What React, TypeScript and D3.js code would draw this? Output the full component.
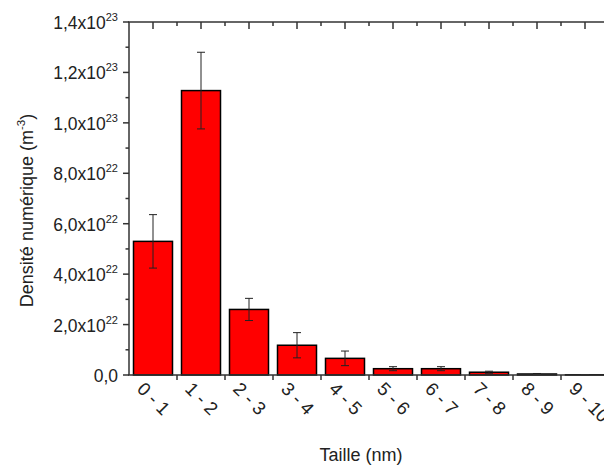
import React from "react";
import * as d3 from "d3";

const categories = ["0 - 1", "1 - 2", "2 - 3", "3 - 4", "4 - 5", "5 - 6", "6 - 7", "7 - 8", "8 - 9", "9 - 10"];
const values = [5.3e22, 1.128e23, 2.6e22, 1.18e22, 0.66e22, 0.25e22, 0.25e22, 0.11e22, 0.04e22, 0.01e22];
const errors = [1.06e22, 1.52e22, 0.44e22, 0.5e22, 0.29e22, 0.08e22, 0.08e22, 0.04e22, 0.02e22, 0.005e22];
const yTicks = [0, 2e22, 4e22, 6e22, 8e22, 1e23, 1.2e23, 1.4e23];
const yMinorTicks = [1e22, 3e22, 5e22, 7e22, 9e22, 1.1e23, 1.3e23];

const W = 604, H = 468;
const left = 129, top = 22, bottom = 375;
const FONT = "'Liberation Sans', Arial, sans-serif";

function tickLabel(v: number) {
  if (v === 0) return { m: "0,0", e: null as string | null };
  const e = Math.floor(Math.log10(v) + 1e-9);
  const m = v / Math.pow(10, e);
  return { m: m.toFixed(1).replace(".", ",") + "x10", e: String(e) };
}

export default function App() {
  const x = d3.scaleBand<string>().domain(categories).range([left, left + 480]).paddingInner(0.1875).paddingOuter(0.09375);
  const y = d3.scaleLinear().domain([0, 1.4e23]).range([bottom, top]);
  const step = x.step();
  const centers = categories.map((c) => (x(c) as number) + x.bandwidth() / 2);
  const bounds = categories.map((c, i) => centers[i] + step / 2);

  return (
    <svg width={W} height={H} style={{ position: "absolute", left: 0, top: 0, background: "#fff" }} fontFamily={FONT}>
      {/* bars */}
      {categories.map((c, i) => (
        <rect key={c} x={x(c)} y={y(values[i])} width={x.bandwidth()} height={bottom - y(values[i])}
          fill="#ff0000" stroke="#000" strokeWidth={1.5} />
      ))}
      {/* error bars */}
      {categories.map((c, i) => {
        const cx = centers[i];
        const y1 = y(values[i] + errors[i]);
        const y2 = y(Math.max(0, values[i] - errors[i]));
        return (
          <g key={"e" + c} stroke="#222" strokeWidth={1}>
            <line x1={cx} x2={cx} y1={y1} y2={y2} />
            <line x1={cx - 4} x2={cx + 4} y1={y1} y2={y1} />
            <line x1={cx - 4} x2={cx + 4} y1={y2} y2={y2} />
          </g>
        );
      })}
      {/* axes lines */}
      <line x1={left} x2={left} y1={top} y2={bottom} stroke="#333" strokeWidth={1.5} />
      <line x1={left - 1} x2={W} y1={bottom} y2={bottom} stroke="#333" strokeWidth={1.5} />
      <line x1={left - 1} x2={W} y1={top} y2={top} stroke="#333" strokeWidth={1.5} />
      {/* y ticks */}
      {yTicks.map((t) => (
        <line key={"yt" + t} x1={left - 6} x2={left} y1={y(t)} y2={y(t)} stroke="#333" strokeWidth={1.5} />
      ))}
      {yMinorTicks.map((t) => (
        <line key={"ym" + t} x1={left - 3.5} x2={left} y1={y(t)} y2={y(t)} stroke="#333" strokeWidth={1.5} />
      ))}
      {yTicks.map((t) => {
        const l = tickLabel(t);
        return (
          <text key={"yl" + t} x={118} y={y(t) + 7} textAnchor="end" fontSize={17.5} fill="#222">
            {l.m}
            {l.e && <tspan fontSize={11} dy={-8}>{l.e}</tspan>}
          </text>
        );
      })}
      {/* top axis ticks */}
      {centers.map((cx, i) => (
        <line key={"tt" + i} x1={cx} x2={cx} y1={top} y2={top + 7} stroke="#333" strokeWidth={1.5} />
      ))}
      {bounds.map((bx, i) => (
        <line key={"tm" + i} x1={bx} x2={bx} y1={top} y2={top + 4} stroke="#333" strokeWidth={1.5} />
      ))}
      {/* bottom ticks */}
      {bounds.map((bx, i) => (
        <line key={"bt" + i} x1={bx} x2={bx} y1={bottom} y2={bottom + 5} stroke="#333" strokeWidth={1.5} />
      ))}
      {/* x labels */}
      {categories.map((c, i) => (
        <text key={"xl" + c} transform={`translate(${centers[i] - 17},${bottom + 15}) rotate(45)`} fontSize={18.5} fill="#222">
          {c}
        </text>
      ))}
      {/* titles */}
      <text transform={`translate(33,${(top + bottom) / 2 + 12}) rotate(-90)`} textAnchor="middle" fontSize={18} fill="#222">
        Densité numérique (m<tspan fontSize={11.5} dy={-8}>-3</tspan><tspan dy={8}>)</tspan>
      </text>
      <text x={361} y={461} textAnchor="middle" fontSize={18} fill="#222">Taille (nm)</text>
    </svg>
  );
}
